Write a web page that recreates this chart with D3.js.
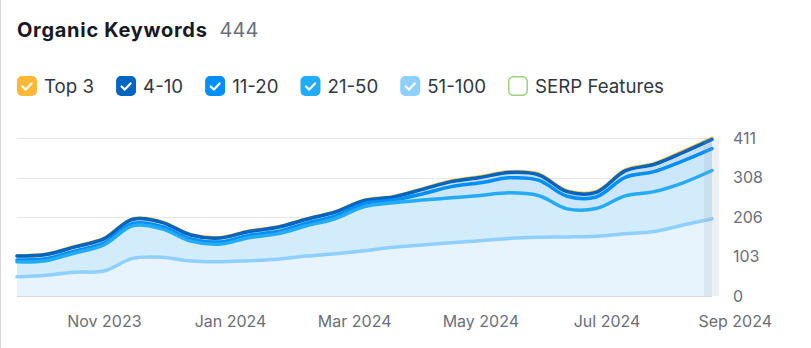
<!DOCTYPE html>
<html>
<head>
<meta charset="utf-8">
<script src="https://cdn.jsdelivr.net/npm/d3@7"></script>
<style>
  html, body { margin: 0; padding: 0; background: #fff; }
  svg { display: block; font-family: Inter, "Noto Sans", sans-serif; }
</style>
</head>
<body>
<svg id="chart" width="811" height="348"></svg>
<script>
// Biweekly snapshots of ranking keywords, split by position bucket
const dates = ["2023-09-20","2023-10-04","2023-10-18","2023-11-01","2023-11-15","2023-11-29",
  "2023-12-13","2023-12-27","2024-01-10","2024-01-24","2024-02-07","2024-02-21","2024-03-06",
  "2024-03-20","2024-04-03","2024-04-17","2024-05-01","2024-05-15","2024-05-29","2024-06-12",
  "2024-06-26","2024-07-10","2024-07-24","2024-08-07","2024-08-21"];
const top3     = [1,1,1,1,1,1,1,1,1,1,1,1,1,1,1,2,2,2,2,2,2,2,2,3,3];
const pos4to10 = [10,11,11,11,11,11,10,10,10,11,10,10,8,8,12,13,14,14,14,12,12,17,19,22,24];
const pos11to20 = [5,5,5,5,6,6,6,6,6,6,7,7,8,7,16,29,33,39,40,33,30,48,52,57,57];
const pos21to50 = [39,38,50,68,85,74,52,46,60,66,79,92,115,116,117,117,118,119,109,73,72,99,104,110,126];
const pos51to100 = [50,54,62,65,98,101,91,89,92,96,104,110,118,127,133,139,144,150,153,154,156,162,168,185,201];

const legendLabels = ["Top 3","4-10","11-20","21-50","51-100","SERP Features"];
const xTickDates = ["2023-11-01","2024-01-01","2024-03-01","2024-05-01","2024-07-01","2024-09-01"];
const yMax = 411;
const totalKeywords = 444;

// series drawn bottom-up in the stack
const seriesKeys = ["p51","p21","p11","p4","top3"];
const seriesColor = { top3:"#FDB934", p4:"#0064C1", p11:"#008FF8", p21:"#24ABF6", p51:"#8FCFFB" };
const bandFill = { top3:"#FFF1CF", p4:"#C6DFF5", p11:"#CCE6FB", p21:"#D3ECFC", p51:"#E8F4FD" };
const legendColors = ["#FDB934","#0064C1","#008FF8","#24ABF6","#8FCFFB", null];

const parse = d3.utcParse("%Y-%m-%d");
const rows = dates.map((d, i) => ({
  date: parse(d), top3: top3[i], p4: pos4to10[i], p11: pos11to20[i], p21: pos21to50[i], p51: pos51to100[i]
}));
const stacked = d3.stack().keys(seriesKeys)(rows);

const svg = d3.select("#chart");

// card border on the left
svg.append("line").attr("x1",0.5).attr("x2",0.5).attr("y1",0).attr("y2",348)
  .attr("stroke","#d9d9dc").attr("stroke-width",1);

// title
const title = svg.append("text").attr("x",17).attr("y",37)
  .attr("font-size",20).attr("font-weight",700).attr("fill","#171a22");
title.append("tspan").attr("letter-spacing",0.7).text("Organic Keywords");
title.append("tspan").attr("dx",12).attr("font-weight",400).attr("fill","#6c6e79").text(totalKeywords);

// legend
const legend = svg.append("g").attr("transform","translate(17,76)");
let lx = 0;
legendLabels.forEach((lab, i) => {
  const g = legend.append("g").attr("transform", `translate(${lx},0)`);
  const c = legendColors[i];
  if (c) {
    g.append("rect").attr("width",20).attr("height",20).attr("rx",5).attr("fill",c);
    g.append("path").attr("d","M5.5,10.5 L8.8,13.6 L14.5,7.4").attr("fill","none")
      .attr("stroke","#fff").attr("stroke-width",2.2).attr("stroke-linecap","round").attr("stroke-linejoin","round");
  } else {
    g.append("rect").attr("x",0.75).attr("y",0.75).attr("width",18.5).attr("height",18.5).attr("rx",4.5)
      .attr("fill","#fff").attr("stroke","#9BD27A").attr("stroke-width",1.5);
  }
  const t = g.append("text").attr("x",27).attr("y",16.5).attr("font-size",18.7).attr("fill","#333642").text(lab);
  lx += 27 + t.node().getComputedTextLength() + 22;
});

// scales
const x = d3.scaleUtc().domain([parse(dates[0]), parse(dates[dates.length-1])]).range([17, 712]);
const y = d3.scaleLinear().domain([0, yMax]).range([296, 138.3]);
const yTicks = [0,1,2,3,4].map(k => yMax * k / 4);

// gridlines
svg.append("g").selectAll("line").data(yTicks).join("line")
  .attr("x1",17).attr("x2",712)
  .attr("y1", d => Math.round(y(d)) + 0.5).attr("y2", d => Math.round(y(d)) + 0.5)
  .attr("stroke", d => d === 0 ? "#d6d9de" : "#e7e8ec").attr("stroke-width",1);

// y axis labels on the right
const yAxis = d3.axisRight(y).tickValues(yTicks).tickFormat(d => Math.round(d)).tickSize(0).tickPadding(0);
svg.append("g").attr("transform","translate(733,0)").call(yAxis)
  .call(g => g.select(".domain").remove())
  .call(g => g.selectAll("text").attr("font-size",16).attr("fill","#6c6e79").attr("font-family","Inter, sans-serif"));

// x axis labels
const xAxis = d3.axisBottom(x).tickValues(xTickDates.map(parse)).tickFormat(d3.utcFormat("%b %Y")).tickSize(0).tickPadding(0);
svg.append("g").attr("transform","translate(0,316)").call(xAxis)
  .call(g => g.select(".domain").remove())
  .call(g => g.selectAll("text").attr("font-size",16).attr("fill","#6c6e79").attr("font-family","Inter, sans-serif"));

// stacked bands
const curve = d3.curveCatmullRom.alpha(0.5);
const area = d3.area().curve(curve).x(d => x(d.data.date)).y0(d => y(d[0])).y1(d => y(d[1]));
const line = d3.line().curve(curve).x(d => x(d.data.date)).y(d => y(d[1]));

svg.append("g").selectAll("path").data(stacked).join("path")
  .attr("d", area).attr("fill", s => bandFill[s.key]);

// series lines: upper buckets first so lower ones sit on top
svg.append("g").selectAll("path").data(stacked.slice().reverse()).join("path")
  .attr("d", line).attr("fill","none")
  .attr("stroke", s => seriesColor[s.key]).attr("stroke-width",3.5)
  .attr("stroke-linejoin","round").attr("stroke-linecap","round");

// hover column at the latest point
const lastX = x(parse(dates[dates.length-1]));
svg.append("rect").attr("x", lastX - 8).attr("y", y(yMax)).attr("width",15).attr("height", y(0) - y(yMax))
  .attr("fill","#9aaab8").attr("opacity",0.18);
</script>
</body>
</html>
